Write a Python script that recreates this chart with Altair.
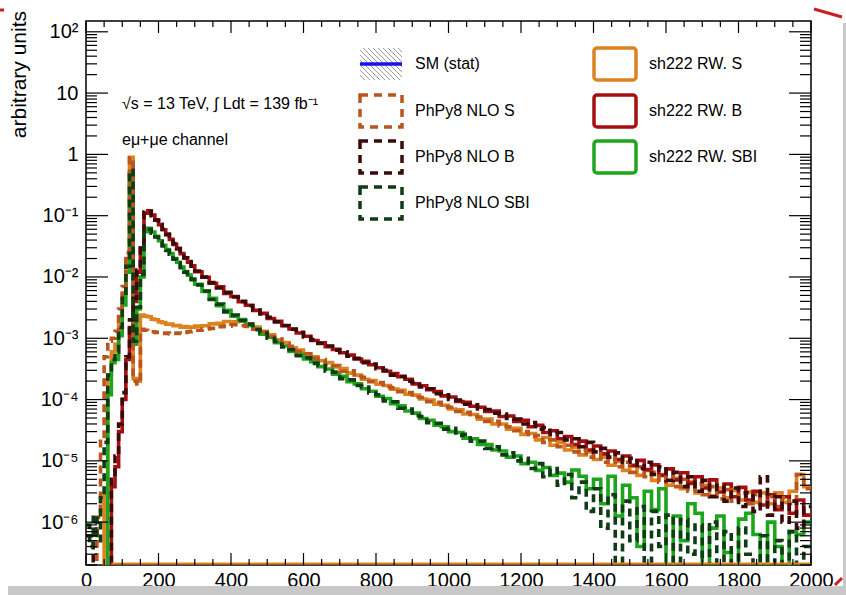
import altair as alt
import pandas as pd

# m_T bin edges (GeV): 10 GeV bins below 300, 20 GeV bins above
edges = list(range(0, 300, 10)) + list(range(300, 2001, 20))

# ---- bin contents (arbitrary units), 0-300 GeV part then 300-2000 GeV part ----
sh222_s_low = [0, 0, 0, 0, 0, 3.0e-6, 2.5e-4, 6.0e-4, 8.0e-4, 2.2e-3,
               5.5e-3, 2.0e-2, 0.90, 2.2e-4, 2.0e-4, 2.4e-3, 2.3e-3, 2.25e-3, 2.05e-3, 2.0e-3,
               1.85e-3, 1.8e-3, 1.7e-3, 1.7e-3, 1.6e-3, 1.62e-3, 1.52e-3, 1.55e-3, 1.5e-3, 1.52e-3]
sh222_s_high = [1.58e-3, 1.6e-3, 1.72e-3, 1.75e-3, 1.88e-3, 1.86e-3, 1.9e-3, 1.7e-3, 1.52e-3, 1.3e-3,
                1.14e-3, 9.4e-4, 8.5e-4, 7.0e-4, 6.4e-4, 5.4e-4, 5.0e-4, 4.3e-4, 4.0e-4, 3.4e-4,
                3.2e-4, 2.7e-4, 2.5e-4, 2.15e-4, 2.05e-4, 1.78e-4, 1.7e-4, 1.48e-4, 1.42e-4, 1.22e-4,
                1.18e-4, 1.02e-4, 9.8e-5, 8.4e-5, 8.1e-5, 7.0e-5, 6.8e-5, 5.8e-5, 5.7e-5, 4.8e-5,
                4.8e-5, 4.0e-5, 4.0e-5, 3.3e-5, 3.4e-5, 2.7e-5, 2.8e-5, 2.2e-5, 2.4e-5, 1.8e-5,
                2.0e-5, 1.5e-5, 1.65e-5, 1.25e-5, 1.4e-5, 1.05e-5, 1.15e-5, 8.5e-6, 9.8e-6, 7.0e-6,
                8.2e-6, 5.8e-6, 7.0e-6, 4.8e-6, 6.0e-6, 4.0e-6, 5.2e-6, 3.5e-6, 4.6e-6, 3.0e-6,
                4.0e-6, 2.7e-6, 3.6e-6, 2.5e-6, 3.3e-6, 2.3e-6, 3.1e-6, 2.1e-6, 3.0e-6, 2.0e-6,
                3.0e-6, 2.1e-6, 3.2e-6, 6.0e-6, 3.8e-6]

sh222_b_low = [0, 0, 0, 0, 0, 0, 0, 3.8e-6, 8.0e-6, 3.0e-5,
               1.0e-4, 4.5e-4, 1.5e-3, 4.0e-3, 1.2e-2, 3.0e-2, 0.11, 0.12, 0.102, 0.086,
               0.071, 0.059, 0.050, 0.041, 0.034, 0.029, 0.024, 0.0205, 0.0174, 0.0152]
sh222_b_high = [1.22e-2, 9.9e-3, 7.9e-3, 6.9e-3, 5.4e-3, 4.8e-3, 3.95e-3, 3.45e-3, 2.85e-3, 2.55e-3,
                2.1e-3, 1.9e-3, 1.6e-3, 1.42e-3, 1.22e-3, 1.08e-3, 9.2e-4, 8.4e-4, 7.3e-4, 6.6e-4,
                5.8e-4, 5.3e-4, 4.6e-4, 4.2e-4, 3.7e-4, 3.3e-4, 2.9e-4, 2.65e-4, 2.35e-4, 2.15e-4,
                1.8e-4, 1.68e-4, 1.45e-4, 1.35e-4, 1.15e-4, 1.1e-4, 9.3e-5, 9.0e-5, 7.8e-5, 7.5e-5,
                6.4e-5, 6.5e-5, 5.3e-5, 5.4e-5, 4.4e-5, 4.6e-5, 3.6e-5, 3.8e-5, 2.9e-5, 3.1e-5,
                2.3e-5, 2.5e-5, 1.85e-5, 2.1e-5, 1.5e-5, 1.75e-5, 1.3e-5, 1.45e-5, 1.05e-5, 1.2e-5,
                8.5e-6, 1.02e-5, 7.2e-6, 8.6e-6, 5.8e-6, 7.4e-6, 4.9e-6, 6.4e-6, 4.3e-6, 5.5e-6,
                3.6e-6, 4.9e-6, 3.1e-6, 4.2e-6, 2.6e-6, 3.7e-6, 2.3e-6, 3.2e-6, 1.9e-6, 2.8e-6,
                1.6e-6, 2.6e-6, 1.4e-6, 2.3e-6, 1.3e-6]

sh222_sbi_low = [0, 0, 0, 0, 0, 0, 1.2e-4, 4.0e-4, 4.5e-4, 1.1e-3,
                 3.5e-3, 1.2e-2, 0.50, 8.0e-4, 3.0e-3, 1.0e-2, 0.055, 0.062, 0.054, 0.046,
                 0.039, 0.033, 0.028, 0.024, 0.020, 0.0174, 0.0145, 0.0123, 0.0107, 0.0093]
sh222_sbi_high = [7.6e-3, 5.8e-3, 4.5e-3, 3.4e-3, 2.85e-3, 2.3e-3, 2.02e-3, 1.62e-3, 1.43e-3, 1.17e-3,
                  1.03e-3, 8.5e-4, 7.5e-4, 6.1e-4, 5.5e-4, 4.6e-4, 4.15e-4, 3.45e-4, 3.15e-4, 2.6e-4,
                  2.4e-4, 1.95e-4, 1.8e-4, 1.5e-4, 1.37e-4, 1.13e-4, 1.04e-4, 8.6e-5, 7.9e-5, 6.5e-5,
                  6.0e-5, 4.9e-5, 4.6e-5, 3.8e-5, 3.6e-5, 3.0e-5, 2.9e-5, 2.35e-5, 2.3e-5, 1.85e-5,
                  1.85e-5, 1.5e-5, 1.45e-5, 1.15e-5, 1.2e-5, 9.0e-6, 9.5e-6, 7.0e-6, 7.8e-6, 5.8e-6,
                  6.3e-6, 4.5e-6, 7.1e-6, 5.6e-6, 3.5e-6, 5.0e-6, 2.0e-6, 5.6e-6, 1.26e-6, 4.0e-6,
                  2.5e-6, 4e-7, 3.2e-6, 1.6e-6, 3.5e-6, 0, 1.26e-6, 5e-7, 2.0e-6, 1.4e-6,
                  0, 8e-7, 1.26e-6, 3.2e-7, 0, 1.12e-6, 1.4e-6, 6.3e-7, 0, 1.0e-6,
                  4e-7, 0, 7e-7, 6.3e-7, 1.0e-6]

phpy8_s_low = [0, 0, 0, 1.2e-6, 2.5e-5, 5.0e-4, 9.0e-4, 1.0e-3, 1.3e-3, 3.0e-3,
               7.0e-3, 2.5e-2, 0.88, 2.0e-4, 1.8e-4, 1.4e-3, 1.35e-3, 1.3e-3, 1.28e-3, 1.25e-3,
               1.25e-3, 1.2e-3, 1.22e-3, 1.18e-3, 1.2e-3, 1.22e-3, 1.2e-3, 1.25e-3, 1.28e-3, 1.3e-3]
phpy8_s_high = [1.35e-3, 1.42e-3, 1.45e-3, 1.55e-3, 1.58e-3, 1.66e-3, 1.6e-3, 1.56e-3, 1.4e-3, 1.26e-3,
                1.07e-3, 9.8e-4, 8.1e-4, 7.4e-4, 6.1e-4, 5.6e-4, 4.7e-4, 4.5e-4, 3.7e-4, 3.6e-4,
                2.9e-4, 2.95e-4, 2.4e-4, 2.3e-4, 1.95e-4, 1.9e-4, 1.6e-4, 1.55e-4, 1.35e-4, 1.3e-4,
                1.1e-4, 1.08e-4, 9.2e-5, 9.0e-5, 7.6e-5, 7.5e-5, 6.4e-5, 6.2e-5, 5.3e-5, 5.2e-5,
                4.4e-5, 4.4e-5, 3.7e-5, 3.6e-5, 3.1e-5, 3.0e-5, 2.5e-5, 2.6e-5, 2.0e-5, 2.2e-5,
                1.7e-5, 1.8e-5, 1.4e-5, 1.5e-5, 1.15e-5, 1.3e-5, 9.5e-6, 1.1e-5, 8.0e-6, 9.5e-6,
                6.5e-6, 8.0e-6, 5.5e-6, 6.5e-6, 4.5e-6, 5.6e-6, 3.8e-6, 5.0e-6, 3.2e-6, 4.2e-6,
                2.8e-6, 3.8e-6, 2.4e-6, 3.4e-6, 2.2e-6, 3.0e-6, 2.0e-6, 2.8e-6, 1.9e-6, 2.6e-6,
                1.8e-6, 2.5e-6, 2.0e-6, 6.0e-6, 3.5e-6]

phpy8_b_low = [6e-7, 6e-7, 0, 0, 0, 0, 0, 5.0e-6, 1.2e-5, 4.0e-5,
               1.3e-4, 5.0e-4, 2.0e-3, 4.5e-3, 1.3e-2, 3.2e-2, 0.115, 0.118, 0.10, 0.084,
               0.072, 0.060, 0.049, 0.042, 0.035, 0.029, 0.0245, 0.0205, 0.0178, 0.0150]
phpy8_b_high = [1.25e-2, 1.0e-2, 8.1e-3, 6.6e-3, 5.6e-3, 4.7e-3, 4.0e-3, 3.4e-3, 2.9e-3, 2.5e-3,
                2.2e-3, 1.85e-3, 1.62e-3, 1.4e-3, 1.25e-3, 1.05e-3, 9.5e-4, 8.2e-4, 7.5e-4, 6.4e-4,
                6.0e-4, 5.1e-4, 4.7e-4, 4.0e-4, 3.8e-4, 3.2e-4, 3.0e-4, 2.5e-4, 2.4e-4, 2.0e-4,
                1.9e-4, 1.6e-4, 1.5e-4, 1.25e-4, 1.2e-4, 1.0e-4, 9.8e-5, 8.4e-5, 8.2e-5, 7.0e-5,
                6.9e-5, 6.0e-5, 5.8e-5, 4.9e-5, 4.8e-5, 4.0e-5, 4.2e-5, 3.3e-5, 3.5e-5, 2.7e-5,
                2.9e-5, 2.2e-5, 2.3e-5, 1.7e-5, 2.0e-5, 1.4e-5, 1.6e-5, 1.15e-5, 1.35e-5, 9.5e-6,
                1.1e-5, 7.5e-6, 9.5e-6, 6.0e-6, 8.0e-6, 4.8e-6, 6.5e-6, 3.8e-6, 5.5e-6, 3.2e-6,
                4.8e-6, 2.6e-6, 4.0e-6, 2.2e-6, 3.6e-6, 1.8e-6, 3.0e-6, 1.5e-6, 5.5e-6, 1.3e-6,
                2.6e-6, 1.0e-6, 2.2e-6, 8e-7, 1.8e-6]

phpy8_sbi_low = [9e-7, 4e-7, 1.3e-6, 5e-7, 2.5e-6, 2.0e-5, 2.5e-4, 4.5e-4, 6.0e-4, 1.5e-3,
                 4.5e-3, 1.5e-2, 0.55, 9.0e-4, 3.2e-3, 1.1e-2, 0.058, 0.060, 0.052, 0.045,
                 0.038, 0.032, 0.027, 0.0235, 0.0195, 0.0168, 0.0142, 0.0120, 0.0104, 0.0090]
phpy8_sbi_high = [7.4e-3, 5.9e-3, 4.3e-3, 3.6e-3, 2.7e-3, 2.4e-3, 1.95e-3, 1.7e-3, 1.38e-3, 1.22e-3,
                  1.0e-3, 8.9e-4, 7.2e-4, 6.5e-4, 5.2e-4, 4.8e-4, 3.9e-4, 3.6e-4, 2.9e-4, 2.8e-4,
                  2.2e-4, 2.1e-4, 1.7e-4, 1.6e-4, 1.28e-4, 1.2e-4, 9.5e-5, 9.2e-5, 7.2e-5, 7.0e-5,
                  5.5e-5, 5.3e-5, 4.2e-5, 4.1e-5, 3.3e-5, 3.4e-5, 2.6e-5, 2.7e-5, 2.1e-5, 2.1e-5,
                  1.6e-5, 1.7e-5, 1.25e-5, 1.35e-5, 1.0e-5, 1.1e-5, 7.5e-6, 9.0e-6, 5.5e-6, 7.5e-6,
                  4.0e-6, 6.0e-6, 2.5e-6, 4.5e-6, 1.5e-6, 3.5e-6, 8e-7, 2.8e-6, 0, 2.2e-6,
                  5e-7, 1.8e-6, 0, 1.5e-6, 4e-7, 1.3e-6, 0, 1.1e-6, 3e-7, 9e-7,
                  0, 1.0e-6, 0, 7e-7, 0, 8e-7, 3e-7, 0, 6e-7, 0,
                  5e-7, 0, 7e-7, 0, 4e-7]

# x-axis labels and y decades shown on the axes
x_labels = list(range(0, 2001, 200))
y_decades = [1e-6, 1e-5, 1e-4, 1e-3, 1e-2, 1e-1, 1.0, 10.0, 100.0]

FONT = "Liberation Sans"
W, H = 725, 544
Y_MIN, Y_MAX = 2e-7, 150.0
FLOOR = 1e-9  # empty bins fall below the frame and get clipped

x_scale = alt.Scale(domain=[0, 2000], nice=False, zero=False)
y_scale = alt.Scale(type="log", domain=[Y_MIN, Y_MAX], nice=False)

x_axis = alt.Axis(values=x_labels, ticks=False, domain=False, grid=False, title=None,
                  format="d", labelFontSize=20, labelPadding=5, labelFlush=False,
                  labelOverlap=False, labelFont=FONT, labelColor="black")
y_label_expr = ("datum.value >= 50 ? '10²' : datum.value >= 5 ? '10' : datum.value >= 0.5 ? '1' : "
                "datum.value >= 0.05 ? '10⁻¹' : datum.value >= 0.005 ? '10⁻²' : "
                "datum.value >= 5e-4 ? '10⁻³' : datum.value >= 5e-5 ? '10⁻⁴' : "
                "datum.value >= 5e-6 ? '10⁻⁵' : '10⁻⁶'")
y_axis = alt.Axis(values=y_decades, ticks=False, domain=False, grid=False, title=None,
                  labelFontSize=20, labelPadding=8, labelExpr=y_label_expr, labelOverlap=False,
                  labelFont=FONT, labelColor="black")


def hist_frame(values):
    vals = list(values) + [values[-1]]
    return pd.DataFrame({"m": edges, "v": [max(v, FLOOR) for v in vals]})


def hist_layer(values, color, dashed):
    props = dict(interpolate="step-after", color=color, strokeWidth=3.6, clip=True,
                 strokeCap="butt", strokeJoin="miter")
    if dashed:
        props["strokeDash"] = [8, 5]
    return alt.Chart(hist_frame(values)).mark_line(**props).encode(
        x=alt.X("m:Q", scale=x_scale, axis=x_axis),
        y=alt.Y("v:Q", scale=y_scale, axis=y_axis),
    )


C_SH_S, C_SH_B, C_SH_SBI = "#dc821e", "#a50f0f", "#1ea51e"
C_PH_S, C_PH_B, C_PH_SBI = "#b9551e", "#3c0a0a", "#0f3c14"

hists = [
    hist_layer(sh222_s_low + sh222_s_high, C_SH_S, False),
    hist_layer(sh222_b_low + sh222_b_high, C_SH_B, False),
    hist_layer(sh222_sbi_low + sh222_sbi_high, C_SH_SBI, False),
    hist_layer(phpy8_s_low + phpy8_s_high, C_PH_S, True),
    hist_layer(phpy8_b_low + phpy8_b_high, C_PH_B, True),
    hist_layer(phpy8_sbi_low + phpy8_sbi_high, C_PH_SBI, True),
]

# orange line resting on the bottom of the frame
base_line = alt.Chart(pd.DataFrame({"a": [70], "b": [2000]})).mark_rule(
    color=C_SH_S, strokeWidth=2).encode(
    x=alt.X("a:Q", scale=x_scale, axis=x_axis), x2="b:Q", y=alt.value(H - 1.5))

# inward ROOT-style ticks on all four sides
x_major = pd.DataFrame({"v": x_labels})
x_minor = pd.DataFrame({"v": [t for t in range(0, 2001, 50) if t % 200]})
y_major = pd.DataFrame({"v": y_decades})
y_minor = pd.DataFrame({"v": [m * 10.0 ** k for k in range(-7, 3) for m in range(2, 10)
                              if Y_MIN <= m * 10.0 ** k <= Y_MAX]})


def xticks(df, length):
    enc_x = alt.X("v:Q", scale=x_scale, axis=x_axis)
    bottom = alt.Chart(df).mark_rule(color="black", strokeWidth=1.2).encode(
        x=enc_x, y=alt.value(H), y2=alt.value(H - length))
    top = alt.Chart(df).mark_rule(color="black", strokeWidth=1.2).encode(
        x=enc_x, y=alt.value(0), y2=alt.value(length))
    return [bottom, top]


def yticks(df, length):
    enc_y = alt.Y("v:Q", scale=y_scale, axis=y_axis)
    left = alt.Chart(df).mark_rule(color="black", strokeWidth=1.2).encode(
        y=enc_y, x=alt.value(0), x2=alt.value(length))
    right = alt.Chart(df).mark_rule(color="black", strokeWidth=1.2).encode(
        y=enc_y, x=alt.value(W), x2=alt.value(W - length))
    return [left, right]


ticks = xticks(x_major, 12) + xticks(x_minor, 6) + yticks(y_major, 22) + yticks(y_minor, 11)

# legend (pixel layout inside the frame)
BOX_W, BOX_H = 42, 32
col_x = [274, 508]
row_y = [43, 90, 136, 182]
legend_entries = [
    # label, color, dashed, column, row
    ("PhPy8 NLO S", C_PH_S, True, 0, 1),
    ("PhPy8 NLO B", C_PH_B, True, 0, 2),
    ("PhPy8 NLO SBI", C_PH_SBI, True, 0, 3),
    ("sh222 RW. S", C_SH_S, False, 1, 0),
    ("sh222 RW. B", C_SH_B, False, 1, 1),
    ("sh222 RW. SBI", C_SH_SBI, False, 1, 2),
]
leg = pd.DataFrame([{
    "label": lab, "color": col, "dashed": d,
    "x0": col_x[c], "x1": col_x[c] + BOX_W,
    "y0": row_y[r] - BOX_H / 2, "y1": row_y[r] + BOX_H / 2,
    "tx": col_x[c] + BOX_W + 13, "ty": row_y[r],
} for lab, col, d, c, r in legend_entries])
leg_text = pd.concat([leg[["label", "tx", "ty"]],
                      pd.DataFrame([{"label": "SM (stat)", "tx": col_x[0] + BOX_W + 13, "ty": row_y[0]}])])


def box_layer(df, dashed):
    props = dict(fillOpacity=0, strokeWidth=3.5, cornerRadius=3)
    if dashed:
        props["strokeDash"] = [8, 6]
        props["cornerRadius"] = 0
    return alt.Chart(df).mark_rect(**props).encode(
        x=alt.X("x0:Q", scale=None), x2="x1:Q",
        y=alt.Y("y0:Q", scale=None), y2="y1:Q",
        stroke=alt.Stroke("color:N", scale=None),
    )


boxes = [box_layer(leg[leg.dashed], True), box_layer(leg[~leg.dashed], False)]

texts = alt.Chart(leg_text).mark_text(align="left", baseline="middle", fontSize=16,
                                       font=FONT, color="black").encode(
    x=alt.X("tx:Q", scale=None), y=alt.Y("ty:Q", scale=None), text="label:N")

# hatched symbol with blue line for the SM statistical band
hx0, hx1 = col_x[0], col_x[0] + BOX_W
hy0, hy1 = row_y[0] - BOX_H / 2, row_y[0] + BOX_H / 2
hh = hy1 - hy0
segs = []
for c in range(int(-hh), BOX_W, 5):
    t0 = max(0, -c)
    t1 = min(hh, BOX_W - c)
    if t1 > t0:
        segs.append({"x": hx0 + c + t0, "y": hy0 + t0, "x2": hx0 + c + t1, "y2": hy0 + t1})
hatch = alt.Chart(pd.DataFrame(segs)).mark_rule(color="#9a9a9a", strokeWidth=1).encode(
    x=alt.X("x:Q", scale=None), x2="x2:Q", y=alt.Y("y:Q", scale=None), y2="y2:Q")
sm_line = alt.Chart(pd.DataFrame({"a": [0]})).mark_rule(color="#1414e6", strokeWidth=3.5).encode(
    x=alt.value(hx0), x2=alt.value(hx1), y=alt.value(row_y[0]), y2=alt.value(row_y[0]))

# annotations
notes = pd.DataFrame({
    "t": ["√s = 13 TeV, ∫ Ldt = 139 fb⁻¹", "eμ+μe channel"],
    "px": [36, 36], "py": [83, 119],
})
note_layer = alt.Chart(notes).mark_text(align="left", baseline="middle", fontSize=16,
                                        font=FONT, color="black").encode(
    x=alt.X("px:Q", scale=None), y=alt.Y("py:Q", scale=None), text="t:N")

y_title = alt.Chart(pd.DataFrame({"t": ["arbitrary units"]})).mark_text(
    angle=270, align="right", baseline="middle", fontSize=21, font=FONT, color="black").encode(
    x=alt.value(-66), y=alt.value(-10), text="t:N")

# page edge decorations around the figure
one = pd.DataFrame({"a": [0]})
edge_bottom = alt.Chart(one).mark_rect(color="#c8c8c8").encode(
    x=alt.value(-78), x2=alt.value(760), y=alt.value(565), y2=alt.value(574))
edge_right = alt.Chart(one).mark_rect(color="#c8c8c8").encode(
    x=alt.value(757), x2=alt.value(760), y=alt.value(2), y2=alt.value(574))
red_tr = alt.Chart(one).mark_rule(color="#cc2020", strokeWidth=3).encode(
    x=alt.value(728), x2=alt.value(756), y=alt.value(-12), y2=alt.value(-4))
red_br = alt.Chart(one).mark_rule(color="#cc2020", strokeWidth=3).encode(
    x=alt.value(749), x2=alt.value(756), y=alt.value(564), y2=alt.value(557))
red_tl = alt.Chart(one).mark_rule(color="#cc2020", strokeWidth=3).encode(
    x=alt.value(-86), x2=alt.value(-82), y=alt.value(-11), y2=alt.value(-11))

chart = alt.layer(
    edge_bottom, edge_right, red_tr, red_br, red_tl,
    *hists, base_line, *ticks,
    hatch, sm_line, *boxes, texts, note_layer, y_title,
).properties(
    width=W, height=H,
    padding={"left": 86, "top": 21, "right": 35, "bottom": 30},
    autosize=alt.AutoSizeParams(type="none"),
    background="white",
).configure_view(stroke="black", strokeWidth=1.5)

chart.save("out.html", embed_options={"renderer": "svg", "actions": False})
